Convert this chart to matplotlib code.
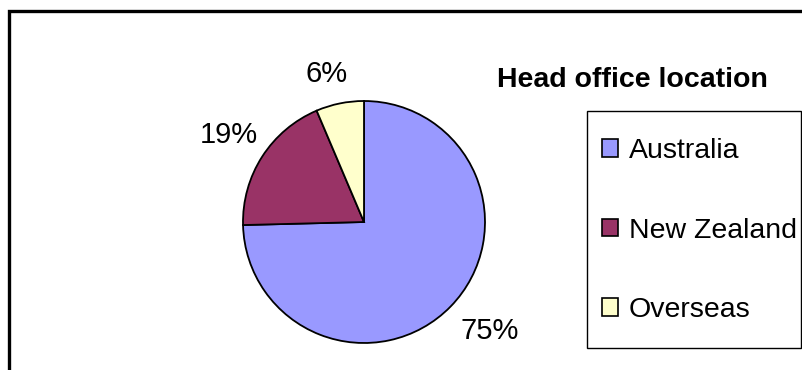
import matplotlib
matplotlib.use("Agg")
import matplotlib.pyplot as plt
from matplotlib.patches import Rectangle, Patch

plt.rcParams['font.family'] = ['Liberation Sans', 'DejaVu Sans']

locations = ['Australia', 'New Zealand', 'Overseas']
shares = [74.6, 19.0, 6.4]
colours = ['#9999FF', '#993366', '#FFFFCC']
title = 'Head office location'

W, H = 803, 370
fig = plt.figure(figsize=(W / 100, H / 100), dpi=100)
ax = fig.add_axes([0, 0, 1, 1])

# outer chart frame (runs off the right and bottom edges)
ax.add_patch(Rectangle((9, -20), W + 20, H - 11 + 20, fill=False,
                       edgecolor='black', linewidth=2.4, clip_on=False))

wedges, _, pcts = ax.pie(shares, colors=colours, center=(364, H - 222), radius=121,
                         startangle=90, counterclock=False, autopct='%.0f%%',
                         pctdistance=1.32, frame=True,
                         wedgeprops=dict(edgecolor='black', linewidth=1.3),
                         textprops=dict(fontsize=21))
ax.set_xlim(0, W)
ax.set_ylim(0, H)
ax.set_aspect('equal')
ax.axis('off')

# nudge the percentage labels to where the original puts them (pixels from top-left)
label_spots = [(490, 331), (229, 135), (327, 74)]
for t, (px, py) in zip(pcts, label_spots):
    t.set_position((px, H - py))
    t.set_ha('center')
    t.set_va('center')

ax.text(632, H - 80, title, ha='center', va='center', fontsize=20.5,
        fontweight='bold')

# legend box drawn separately so the padding can be set freely
ax.add_patch(Rectangle((587, H - 348), 801 - 587, 348 - 111, fill=False,
                       edgecolor='black', linewidth=1.0))
handles = [Patch(facecolor=c, edgecolor='black', linewidth=1.2) for c in colours]
leg = ax.legend(handles, locations, loc='upper left',
                bbox_to_anchor=(602 / W, 1 - 138 / H), bbox_transform=fig.transFigure,
                fontsize=20.5, frameon=False,
                handlelength=0.55, handleheight=0.55, handletextpad=0.4,
                labelspacing=1.88, borderpad=0, borderaxespad=0)

fig.savefig('out.png', dpi=100)
